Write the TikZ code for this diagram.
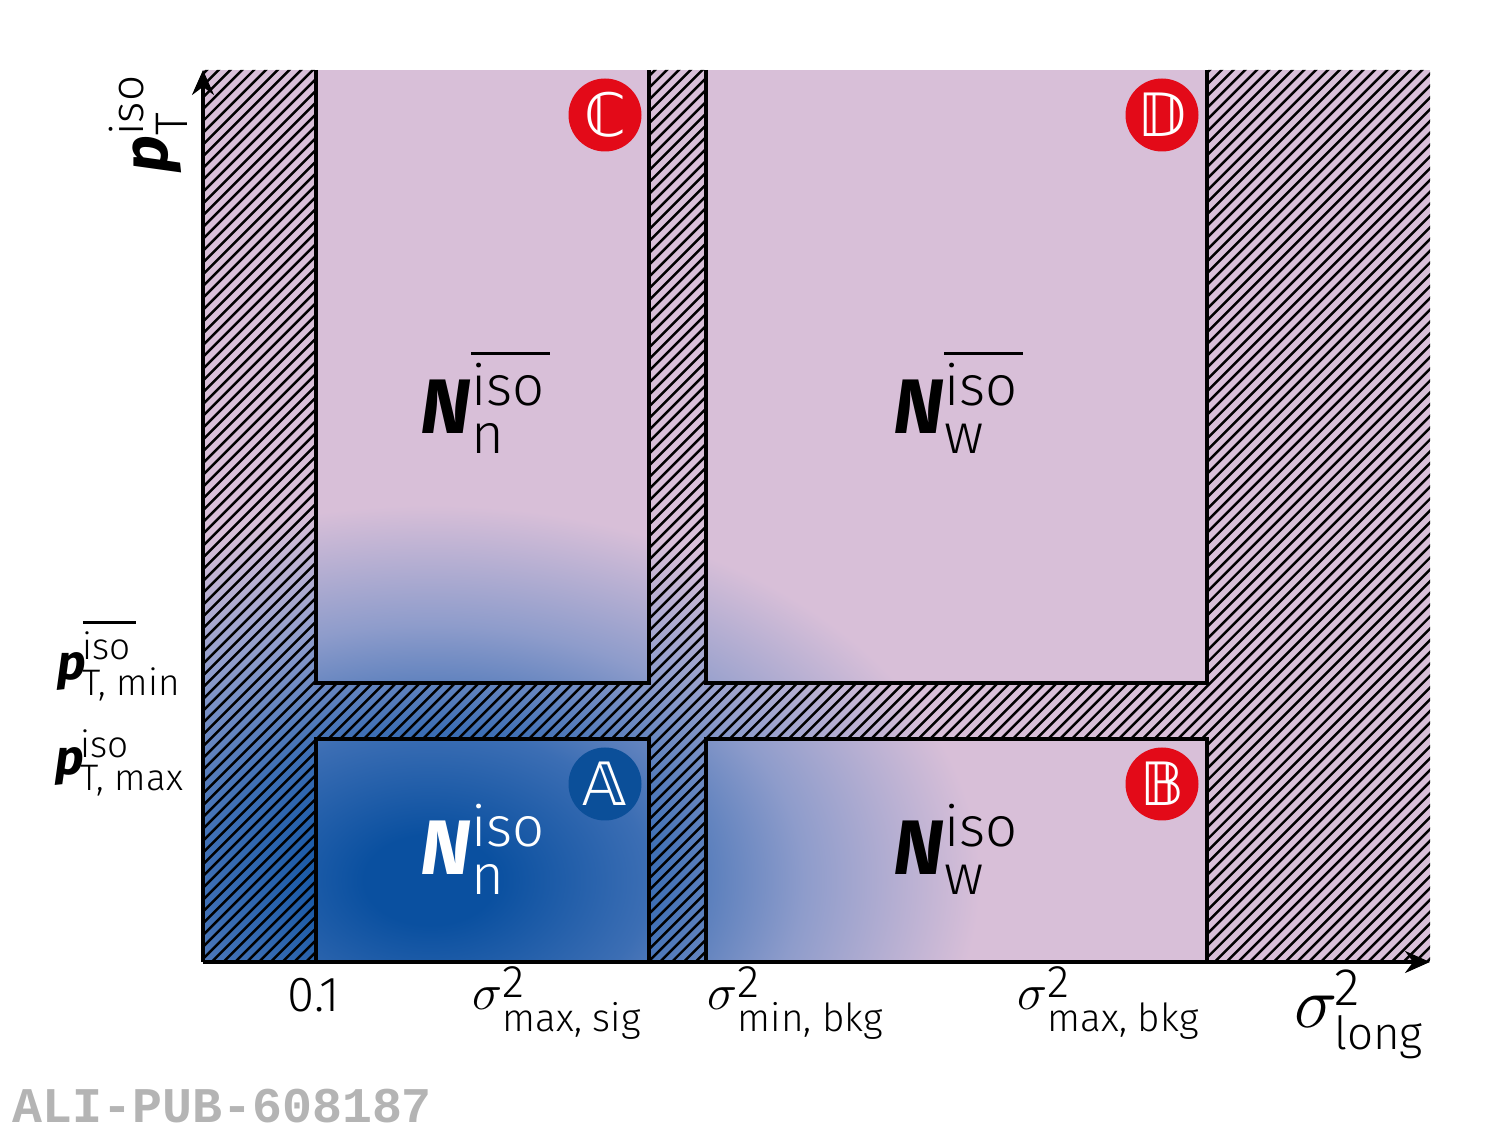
\documentclass[tikz,border=0pt]{standalone}
\usepackage{fontspec}
\setmainfont{Fira Sans}[UprightFont=* Light, ItalicFont=* Light Italic, BoldFont=* Bold, BoldItalicFont=* Bold Italic]
\newfontfamily\pubfont{Liberation Mono}
\newfontfamily\bbfont{DejaVu Sans}
\usetikzlibrary{arrows.meta,calc}
\definecolor{thistle}{HTML}{D8BFD8}
\definecolor{blobc}{HTML}{0A50A0}
\definecolor{blobb}{HTML}{3C6EB4}
\definecolor{blobm}{HTML}{8E9CCB}
\definecolor{alired}{HTML}{E30A18}
\definecolor{aliblue}{HTML}{0B4F99}
\definecolor{pubgray}{HTML}{B4B4B4}
\pgfdeclareradialshading{blob}{\pgfpoint{0bp}{0bp}}{color(0bp)=(blobc); color(3bp)=(blobc);
  color(10bp)=(blobb); color(17bp)=(blobm); color(25bp)=(thistle); color(50bp)=(thistle)}
% sup/sub stack and overline
\newcommand{\ssc}[4]{\rlap{\raisebox{#3}{#1}}\raisebox{-#4}{#2}}
\newcommand{\ovl}[1]{\vbox{\hrule height 0.85pt\kern 2.3pt\hbox{#1\kern1.5pt}}}
\newcommand{\scr}[1]{\fontsize{#1}{#1}\selectfont\mdseries\upshape}
\tikzset{
  axis/.style={-{Stealth[length=0.25cm,width=0.22cm]},line width=0.9pt},
  frame/.style={line width=0.9pt},
  hatchline/.style={line width=0.7pt},
  badge_red/.style={circle,fill=alired,minimum size=0.73cm,inner sep=0pt,text=white,
    font=\bbfont\fontsize{17}{17}\selectfont},
  badge_blue/.style={badge_red,fill=aliblue},
  nlabel/.style={anchor=base west,inner sep=0pt,font=\fontsize{22}{22}\selectfont\bfseries\itshape},
  plabel/.style={anchor=base west,inner sep=0pt,font=\fontsize{14}{14}\selectfont\bfseries\itshape},
  slabel/.style={anchor=base west,inner sep=0pt,font=\fontsize{15}{15}\selectfont},
  ticklbl/.style={anchor=base west,inner sep=0pt,font=\fontsize{14}{14}\selectfont},
}

\begin{document}
\begin{tikzpicture}
  \useasboundingbox (0,0) rectangle (15.12,11.34);

  \coordinate (O) at (2.03,1.72);
  \coordinate (xend) at (14.30,1.72);
  \coordinate (yend) at (2.03,10.64);

  % background and signal blob
  \fill[thistle] (O) rectangle (14.30,10.64);
  \begin{scope}
    \clip (O) rectangle (14.30,10.64);
    \shade[shading=blob] (4.3,2.54) ellipse [x radius=5.5, y radius=3.75];
  \end{scope}

  % hatched gaps
  \begin{scope}
    \clip (2.03,1.72) rectangle (3.16,10.64)
          (6.49,1.72) rectangle (7.06,10.64)
          (12.07,1.72) rectangle (14.30,10.64)
          (2.03,3.95) rectangle (14.30,4.51);
    \foreach \k in {0,...,185}
      \draw[hatchline] ($(O)+(\k*0.118-9,0)$) -- ++(9.2,9.2);
  \end{scope}

  % regions
  \draw[frame] (3.16,10.64) |- (6.49,4.51) -- (6.49,10.64);
  \draw[frame] (7.06,10.64) |- (12.07,4.51) -- (12.07,10.64);
  \draw[frame] (3.16,1.72) |- (6.49,3.95) -- (6.49,1.72);
  \draw[frame] (7.06,1.72) |- (12.07,3.95) -- (12.07,1.72);

  \draw[axis] (O) -- (xend);
  \draw[axis] (O) -- (yend);

  \node[badge_red] (bC) at (6.05,10.19) {ℂ};
  \node[badge_red] (bD) at (11.62,10.19) {𝔻};
  \node[badge_blue] (bA) at (6.05,3.50) {𝔸};
  \node[badge_red] (bB) at (11.62,3.50) {𝔹};

  \node[nlabel] (nC) at (4.20,7.00) {N{\scr{16}\ssc{\ovl{iso}}{n}{8pt}{5.6pt}}};
  \node[nlabel] (nD) at (8.93,7.00) {N{\scr{16}\ssc{\ovl{iso}}{w}{8pt}{5.6pt}}};
  \node[nlabel,text=white] (nA) at (4.20,2.59) {N{\scr{16}\ssc{iso}{n}{8pt}{5.6pt}}};
  \node[nlabel] (nB) at (8.93,2.59) {N{\scr{16}\ssc{iso}{w}{8pt}{5.6pt}}};

  % axis labels
  \node[plabel,font=\fontsize{18}{18}\selectfont\bfseries\itshape,rotate=90] (ylab) at (1.67,9.61)
    {p{\scr{13}\ssc{iso}{T}{6.8pt}{5.7pt}}};
  \node[plabel] (pmin) at (0.57,4.54) {p{\kern-1pt\scr{10.5}\ssc{\ovl{iso}}{T, min}{5.7pt}{4.3pt}}};
  \node[plabel] (pmax) at (0.55,3.59) {p{\kern-1pt\scr{10.5}\ssc{iso}{T, max}{5.1pt}{4.3pt}}};

  \node[ticklbl] (t01) at (2.87,1.22) {0.1};
  \node[slabel] (smaxsig) at (4.72,1.25) {$\sigma$\scr{11}\ssc{\fontsize{13}{13}\selectfont 2}{max, sig}{3.4pt}{6.5pt}};
  \node[slabel] (sminbkg) at (7.07,1.25) {$\sigma$\scr{11}\ssc{\fontsize{13}{13}\selectfont 2}{min, bkg}{3.4pt}{6.5pt}};
  \node[slabel] (smaxbkg) at (10.17,1.25) {$\sigma$\scr{11}\ssc{\fontsize{13}{13}\selectfont 2}{max, bkg}{3.4pt}{6.5pt}};
  \node[slabel,font=\fontsize{20}{20}\selectfont] (slong) at (12.94,1.06)
    {$\sigma$\kern-1pt\scr{13}\ssc{\fontsize{15}{15}\selectfont 2}{long}{6.5pt}{6.2pt}};

  \node[anchor=base west,inner sep=0pt,text=pubgray,font=\pubfont\bfseries\fontsize{14.2}{14.2}\selectfont]
    (pub) at (0.12,0.12) {ALI-PUB-608187};
\end{tikzpicture}
\end{document}
